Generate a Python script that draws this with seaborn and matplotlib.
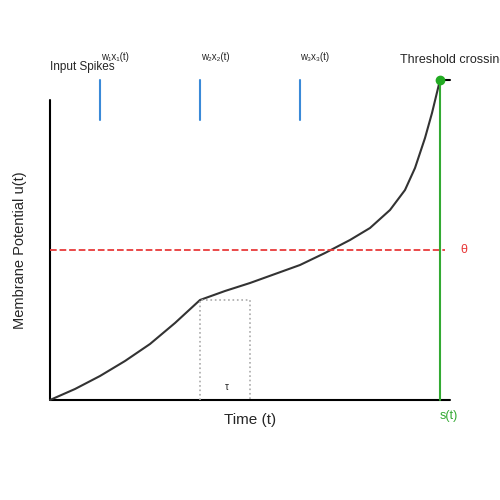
import matplotlib.pyplot as plt
import seaborn as sns
import pandas as pd

sns.set_style("white")
plt.rcParams['font.family'] = ['Liberation Sans', 'DejaVu Sans']

# membrane potential trace (time, potential)
t = [0, 25, 50, 75, 100, 125, 150, 175, 200, 225, 250, 275, 300, 320, 340,
     355, 365, 375, 382, 390]
u = [0, 11, 24, 39, 56, 77, 100, 109, 117, 126, 135, 147, 160, 172, 190,
     210, 232, 262, 287, 320]
spike_times = [50, 150, 250]
spike_labels = ["w\u2081x\u2081(t)", "w\u2082x\u2082(t)", "w\u2083x\u2083(t)"]
theta = 150
t_fire = 390

fig = plt.figure(figsize=(5, 5), dpi=100)
ax = fig.add_axes([0, 0, 1, 1])
ax.set_xlim(-50, 450)
ax.set_ylim(-100, 400)
ax.axis("off")

# axes lines
ax.plot([0, 400], [0, 0], color="black", lw=1.5)
ax.plot([0, 0], [0, 300], color="black", lw=1.5)
ax.plot([t_fire, 400], [320, 320], color="black", lw=1.5)

sns.lineplot(data=pd.DataFrame({"t": t, "u": u}), x="t", y="u", ax=ax,
             color="#333333", lw=1.5, sort=False, estimator=None)

ax.plot([0, 395], [theta, theta], color="#e83a3a", ls="--", lw=1.3)
ax.text(410, theta, "θ", color="#e83a3a", fontsize=9, va="center")

ax.plot([t_fire, t_fire], [0, 320], color="#33aa33", lw=1.5)
ax.plot([t_fire], [320], "o", color="#22aa22", ms=6)
ax.text(t_fire, -10, "s(t)", color="#33aa33", fontsize=9, va="top")
ax.text(350, 337, "Threshold crossing", fontsize=9, ha="left")

for st, lab in zip(spike_times, spike_labels):
    ax.plot([st, st], [280, 320], color="#3a8ad8", lw=1.5)
    ax.text(st + 15, 338, lab, fontsize=7, ha="center", va="bottom")
ax.text(0, 333, "Input Spikes", fontsize=8.5, va="center")

ax.plot([150, 150, 200, 200], [0, 100, 100, 0], color="#aaaaaa", ls=":", lw=1.2)
ax.text(177, 13, "τ", fontsize=7, ha="center", va="center")

ax.text(200, -20, "Time (t)", fontsize=11, ha="center", va="center")
ax.text(-30, 150, "Membrane Potential u(t)", fontsize=10.5, rotation=90,
        ha="center", va="center")

fig.savefig("out.png", dpi=100)
